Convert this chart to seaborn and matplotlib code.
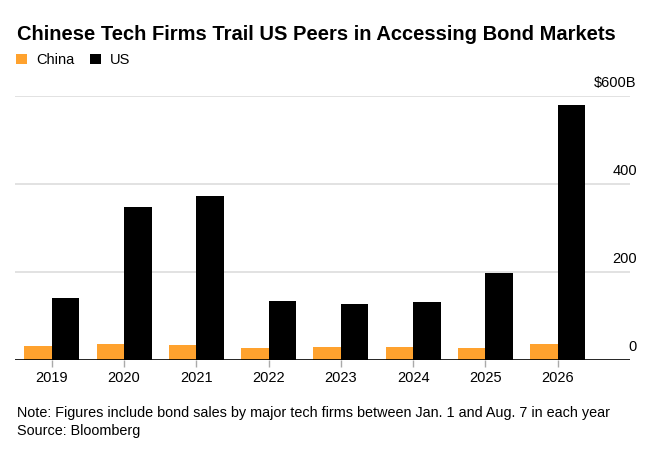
import pandas as pd
import seaborn as sns
import matplotlib.pyplot as plt
import matplotlib.transforms as mtransforms

years = ["2019", "2020", "2021", "2022", "2023", "2024", "2025", "2026"]
china = [32, 36, 34, 27, 30, 30, 27, 36]
us = [142, 348, 372, 135, 127, 131, 198, 579]
y_ticks = [0, 200, 400, 600]
y_labels = ["0", "200", "400", "$600B"]

df = pd.DataFrame({
    "year": years * 2,
    "value": china + us,
    "country": ["China"] * len(years) + ["US"] * len(years),
})

sns.set_theme(style="white")
plt.rcParams["font.family"] = ["Liberation Sans", "DejaVu Sans"]
plt.rcParams["text.color"] = "black"
plt.rcParams["xtick.labelcolor"] = "black"

fig = plt.figure(figsize=(6.64, 4.59), dpi=100)
ax = fig.add_axes([15 / 664, 1 - 360 / 459, 615 / 664, 264 / 459])

sns.barplot(data=df, x="year", y="value", hue="country",
            palette={"China": "#FFA22E", "US": "#000000"},
            width=0.76, gap=0, saturation=1, edgecolor="none", ax=ax)

ax.set_xlim(-0.51, 8.0)
ax.set_ylim(0, 600)
ax.set_xlabel("")
ax.set_ylabel("")
ax.set_yticks(y_ticks)
ax.set_yticklabels([])
ax.tick_params(axis="y", length=0)
ax.tick_params(axis="x", length=5, color="#aaaaaa", width=1, labelsize=10.5,
               pad=3, bottom=True, labelcolor="black")
for t in y_ticks[1:]:
    ax.axhline(t, color="#dddddd", lw=1.2, zorder=0)
ax.axhline(0, color="#000000", lw=1.2, zorder=3)
for s in ax.spines.values():
    s.set_visible(False)

# right-side value labels sitting above the gridlines
off = mtransforms.offset_copy(ax.get_yaxis_transform(), fig=fig, x=0, y=4, units="points")
for t, lab in zip(y_ticks, y_labels):
    ax.text(1.011, t, lab, transform=off, ha="right", va="bottom", fontsize=10.5)

ax.get_legend().remove()
handles, labels = ax.get_legend_handles_labels()
fig.legend(handles, labels, loc="upper left", bbox_to_anchor=(3 / 664, 1 - 40 / 459),
           ncol=2, frameon=False, fontsize=10.5, handlelength=0.75, handleheight=0.75,
           handletextpad=0.6, columnspacing=1.1)

fig.text(17 / 664, 1 - 40 / 459, "Chinese Tech Firms Trail US Peers in Accessing Bond Markets",
         fontsize=14.5, fontweight="bold", va="baseline")
fig.text(17 / 664, 1 - 417 / 459,
         "Note: Figures include bond sales by major tech firms between Jan. 1 and Aug. 7 in each year",
         fontsize=10.4, va="baseline")
fig.text(17 / 664, 1 - 435 / 459, "Source: Bloomberg", fontsize=10.4, va="baseline")

fig.savefig("out.png", dpi=100)
